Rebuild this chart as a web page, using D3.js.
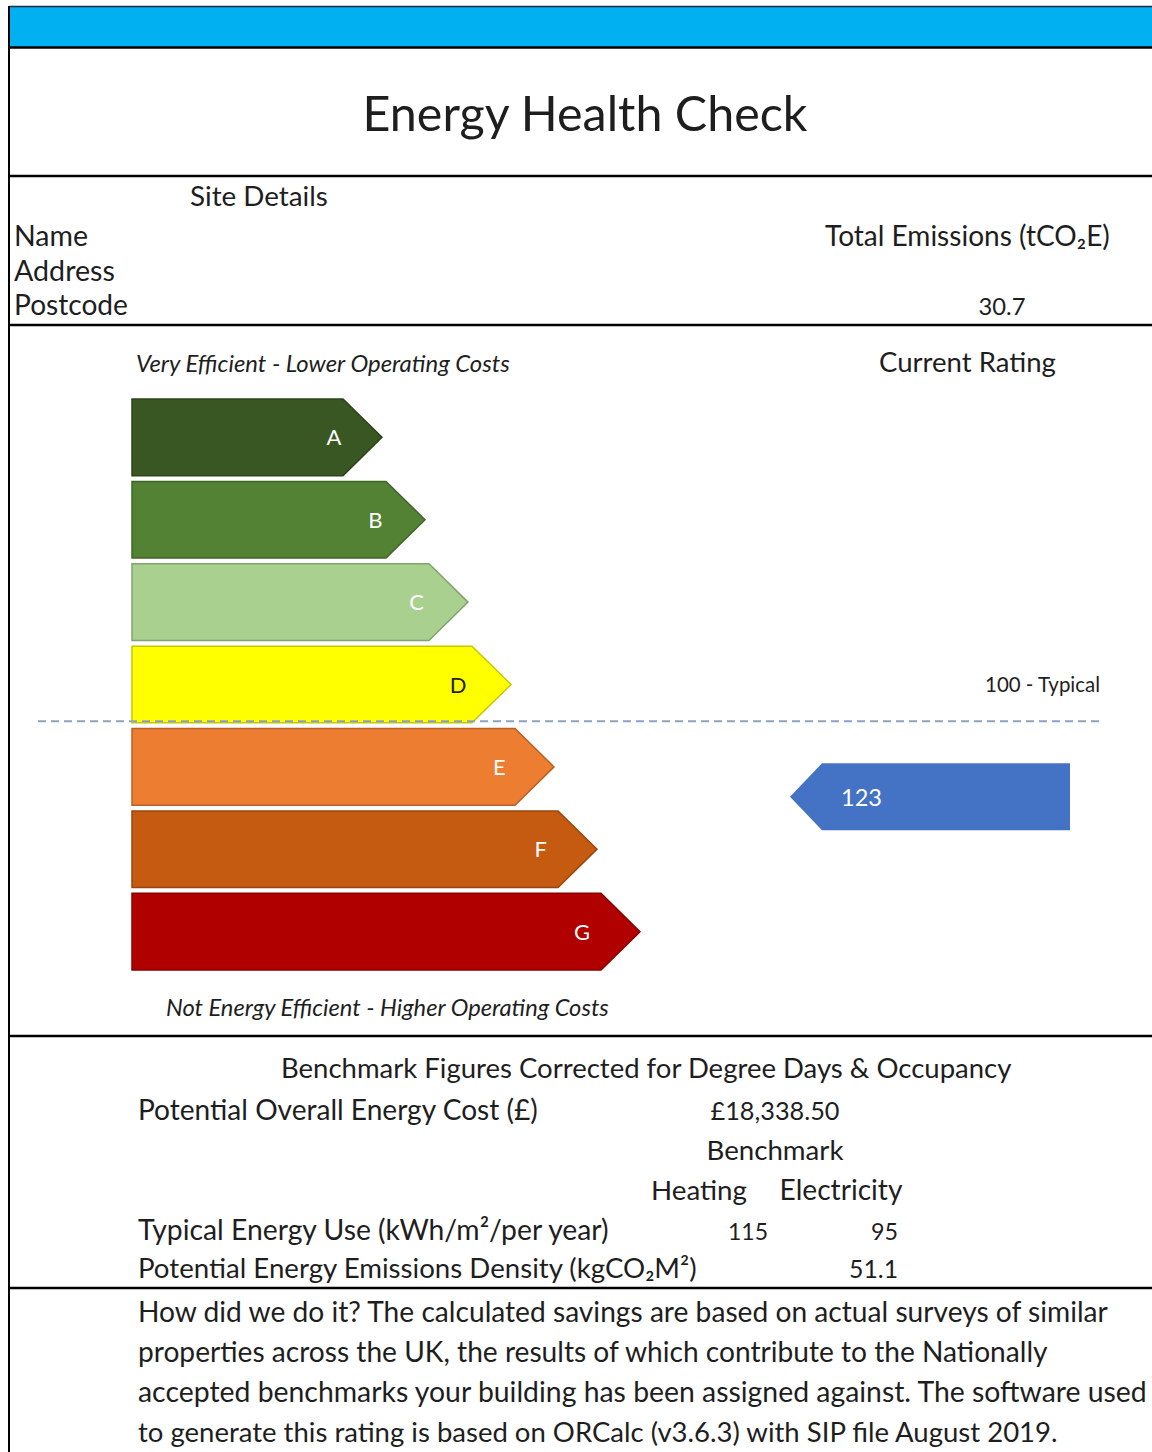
<!DOCTYPE html>
<html>
<head>
<meta charset="utf-8">
<script src="https://cdn.jsdelivr.net/npm/d3@7"></script>
<style>
  html, body { margin: 0; padding: 0; background: #fff; }
  svg { display: block; }
  text { font-family: Lato, "Open Sans", sans-serif; fill: #1e1e1e; }
</style>
</head>
<body>
<svg id="chart" width="1152" height="1452"></svg>
<script>
// ---- data ----
const title = "Energy Health Check";
const siteLabels = ["Name", "Address", "Postcode"];
const totalEmissions = 30.7;
const bandLetters = ["A", "B", "C", "D", "E", "F", "G"];
const bandColors = ["#385723", "#548235", "#a9d08e", "#ffff00", "#ed7d31", "#c55a11", "#b00000"];
const bandLabelColors = ["#ffffff", "#ffffff", "#ffffff", "#1e1e1e", "#ffffff", "#ffffff", "#ffffff"];
const ratingDomain = [0, 175];
const typicalRating = 100;
const currentRating = 123;
const energyCost = 18338.50;
const heatingUse = 115;
const electricityUse = 95;
const emissionsDensity = 51.1;
const noteLines = [
  "How did we do it? The calculated savings are based on actual surveys of similar",
  "properties across the UK, the results of which contribute to the Nationally",
  "accepted benchmarks your building has been assigned against. The software used",
  "to generate this rating is based on ORCalc (v3.6.3) with SIP file August 2019."
];

const svg = d3.select("#chart");
const W = 1152;

// text helper: optionally fits text to a target width by scaling the font size
function label(x, y, str, size, opts = {}) {
  const t = svg.append("text")
    .attr("x", x).attr("y", y)
    .attr("font-size", size)
    .attr("text-anchor", opts.anchor || "start")
    .attr("font-style", opts.italic ? "italic" : null)
    .style("fill", opts.fill || null)
    .text(str);
  if (opts.width) fit(t, size, opts.width);
  return t;
}
function fit(t, size, width) {
  const w = t.node().getComputedTextLength();
  t.attr("font-size", size * width / w);
}

// ---- frame ----
svg.append("rect").attr("x", 9).attr("y", 6).attr("width", W - 9).attr("height", 41)
  .attr("fill", "#00b0f0");
svg.append("line").attr("x1", 9).attr("x2", W).attr("y1", 6.5).attr("y2", 6.5)
  .attr("stroke", "#1a2a3a").attr("stroke-width", 1.5);
svg.append("line").attr("x1", 9).attr("x2", 9).attr("y1", 6).attr("y2", 1452)
  .attr("stroke", "#000").attr("stroke-width", 2);
[47.5, 176, 325, 1036, 1288].forEach(y => {
  svg.append("line").attr("x1", 9).attr("x2", W).attr("y1", y).attr("y2", y)
    .attr("stroke", "#000").attr("stroke-width", 2.5);
});

// ---- header ----
label(585, 131, title, 46, { anchor: "middle", width: 445 });
label(190, 206, "Site Details", 24, { width: 138 });
const siteY = d3.scalePoint().domain(siteLabels).range([246, 315]);
const siteWidths = [74, 101, 114];
siteLabels.forEach((s, i) => label(14, siteY(s), s, 24, { width: siteWidths[i] }));
const emis = label(825, 246, "", 24);
emis.append("tspan").text("Total Emissions (tCO");
emis.append("tspan").text("₂");
emis.append("tspan").text("E)");
fit(emis, 24, 285);
label(1002, 315, d3.format(".1f")(totalEmissions), 24, { anchor: "middle", width: 47 });

// ---- rating scale ----
label(136, 372, "Very Efficient - Lower Operating Costs", 21, { italic: true, width: 374 });
label(879, 372, "Current Rating", 24, { width: 177 });

const yBand = d3.scaleBand().domain(bandLetters).range([399, 970]).paddingInner(0.07);
const tipX = d3.scaleLinear().domain([0, bandLetters.length - 1]).range([382, 640]);
const letterX = d3.scaleLinear().domain([0, bandLetters.length - 1]).range([334, 582]);
const ratingY = d3.scaleLinear().domain(ratingDomain).range([392, 968]);
const x0 = 132, notch = 39;

const bars = svg.append("g").selectAll("g").data(bandLetters).join("g");
bars.append("path")
  .attr("d", (d, i) => {
    const y0 = yBand(d), h = yBand.bandwidth(), xt = tipX(i);
    return `M${x0},${y0}H${xt - notch}L${xt},${y0 + h / 2}L${xt - notch},${y0 + h}H${x0}Z`;
  })
  .attr("fill", (d, i) => bandColors[i])
  .attr("stroke", (d, i) => d3.color(bandColors[i]).darker(0.7))
  .attr("stroke-width", 1.5);
bars.append("text")
  .attr("x", (d, i) => letterX(i))
  .attr("y", d => yBand(d) + yBand.bandwidth() / 2 + 8)
  .attr("text-anchor", "middle")
  .attr("font-size", 22)
  .attr("font-family", "'Liberation Sans', Arial, sans-serif")
  .style("fill", (d, i) => bandLabelColors[i])
  .text(d => d);

label(166, 1016, "Not Energy Efficient - Higher Operating Costs", 21, { italic: true, width: 443 });

// typical marker
svg.append("line")
  .attr("x1", 38).attr("x2", 1102)
  .attr("y1", ratingY(typicalRating)).attr("y2", ratingY(typicalRating))
  .attr("stroke", "#8aa3bd").attr("stroke-width", 2)
  .attr("stroke-dasharray", "8,5");
label(1100, ratingY(typicalRating) - 29, `${typicalRating} - Typical`, 18, { anchor: "end", width: 115 });

// current rating arrow
const ay = ratingY(currentRating), ah = 67, ax0 = 790, ax1 = 1070, an = 32;
svg.append("path")
  .attr("d", `M${ax0},${ay}L${ax0 + an},${ay - ah / 2}H${ax1}V${ay + ah / 2}H${ax0 + an}Z`)
  .attr("fill", "#4472c4");
label(841, ay + 9, String(currentRating), 24, { fill: "#ffffff", width: 41 });

// ---- benchmark figures ----
label(281, 1078, "Benchmark Figures Corrected for Degree Days & Occupancy", 24, { width: 731 });
label(138, 1120, "Potential Overall Energy Cost (£)", 24, { width: 400 });
label(775, 1120, "£" + d3.format(",.2f")(energyCost), 24, { anchor: "middle", width: 129 });
label(775, 1160, "Benchmark", 24, { anchor: "middle", width: 137 });
label(699, 1200, "Heating", 24, { anchor: "middle", width: 96 });
label(841, 1200, "Electricity", 24, { anchor: "middle", width: 123 });

const eu = label(138, 1240, "", 24);
eu.append("tspan").text("Typical Energy Use (kWh/m");
eu.append("tspan").text("²");
eu.append("tspan").text("/per year)");
fit(eu, 24, 471);
label(768, 1240, String(heatingUse), 24, { anchor: "end", width: 40 });
label(898, 1240, String(electricityUse), 24, { anchor: "end", width: 27 });

label(138, 1278, "Potential Energy Emissions Density (kgCO₂M²)", 24, { width: 559 });
label(898, 1278, d3.format(".1f")(emissionsDensity), 24, { anchor: "end", width: 49 });

// ---- note ----
const noteY = d3.scalePoint().domain(d3.range(noteLines.length)).range([1322, 1442]);
const noteWidths = [970, 910, 1009, 920];
noteLines.forEach((s, i) => label(138, noteY(i), s, 26, { width: noteWidths[i] }));
</script>
</body>
</html>
